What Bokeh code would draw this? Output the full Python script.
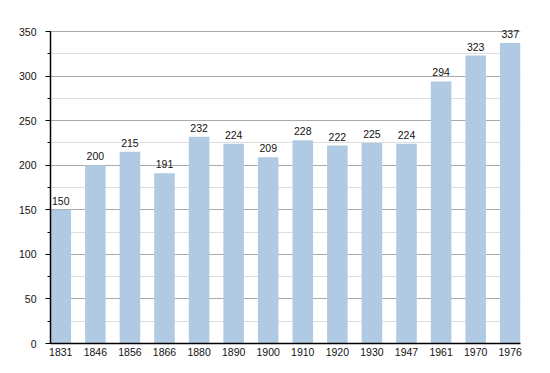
from bokeh.plotting import figure
from bokeh.models import Range1d, FixedTicker, SingleIntervalTicker, ColumnDataSource, LabelSet
from bokeh.core.properties import value
from bokeh.embed import file_html
from bokeh.resources import INLINE

years = ["1831", "1846", "1856", "1866", "1880", "1890", "1900", "1910",
         "1920", "1930", "1947", "1961", "1970", "1976"]
population = [150, 200, 215, 191, 232, 224, 209, 228, 222, 225, 224, 294, 323, 337]

FONT = "Liberation Sans"
BAR_W = 0.595
Y_MAX = 350
# extra headroom above the axis so the top value label is not clipped (10 px)
Y_END = Y_MAX * (312 + 10) / 312

xs = list(range(len(years)))
src = ColumnDataSource(dict(x=xs, top=population, lbl=[str(v) for v in population]))

p = figure(width=542, height=365, output_backend="svg", toolbar_location=None,
           x_range=Range1d(-BAR_W / 2, len(years) - 1 + BAR_W / 2),
           y_range=Range1d(0, Y_END),
           min_border_left=50, min_border_right=22, min_border_top=21, min_border_bottom=22)
p.outline_line_color = None
p.background_fill_color = "white"
p.border_fill_color = "white"

p.vbar(x="x", top="top", width=BAR_W, bottom=0, source=src,
       fill_color="#b1cae4", line_color=None)

labels = LabelSet(x="x", y="top", text="lbl", source=src, y_offset=5,
                  text_align="center", text_baseline="bottom",
                  text_font=value(FONT), text_font_size=value("10.5px"),
                  text_color=value("#111111"), level="overlay")
p.add_layout(labels)

# x axis
p.xaxis.ticker = FixedTicker(ticks=xs)
p.xaxis.major_label_overrides = {i: y for i, y in enumerate(years)}
p.xaxis.major_tick_out = 0
p.xaxis.major_tick_in = 0
p.xaxis.minor_tick_out = 0
p.xaxis.minor_tick_in = 0
p.xaxis.axis_line_color = "black"
p.xaxis.axis_line_width = 1.5
p.xaxis.major_label_standoff = 4
p.xaxis.major_label_text_font = FONT
p.xaxis.major_label_text_font_size = "10.5px"
p.xaxis.major_label_text_color = "#111111"
p.xgrid.grid_line_color = None

# y axis
p.yaxis.ticker = SingleIntervalTicker(interval=50, num_minor_ticks=2)
p.yaxis.bounds = (0, Y_MAX)
p.yaxis.major_tick_out = 5
p.yaxis.major_tick_in = 0
p.yaxis.minor_tick_out = 3
p.yaxis.minor_tick_in = 0
p.yaxis.major_tick_line_color = "black"
p.yaxis.minor_tick_line_color = "black"
p.yaxis.axis_line_color = "black"
p.yaxis.axis_line_width = 1.5
p.yaxis.major_label_standoff = 9
p.yaxis.major_label_text_font = FONT
p.yaxis.major_label_text_font_size = "10.5px"
p.yaxis.major_label_text_color = "#111111"
p.ygrid.bounds = (0, Y_MAX)
p.ygrid.grid_line_color = "#aaaaaa"
p.ygrid.minor_grid_line_color = "#dddddd"
p.ygrid.level = "underlay"

open("out.html", "w").write(file_html(p, INLINE))
